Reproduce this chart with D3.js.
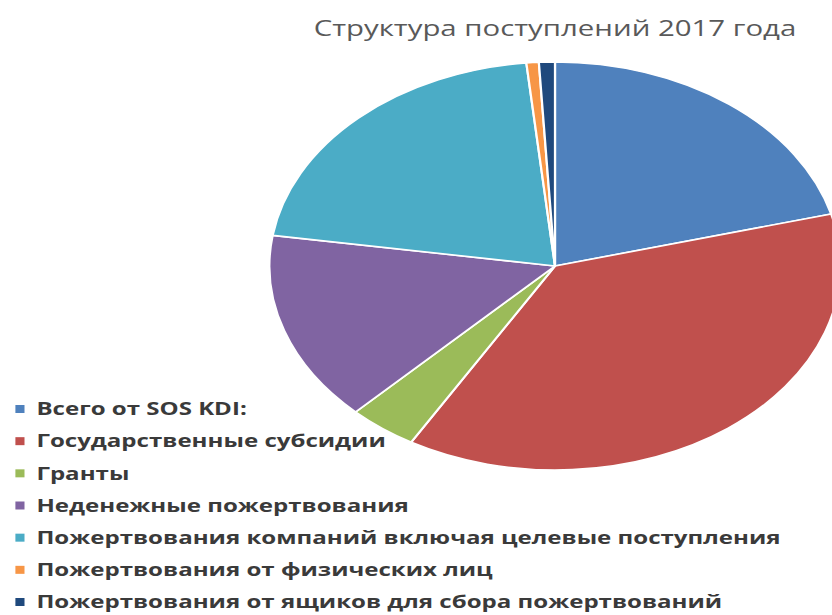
<!DOCTYPE html>
<html>
<head>
<meta charset="utf-8">
<script src="https://cdn.jsdelivr.net/npm/d3@7"></script>
<style>
  body { margin: 0; background: #fff; }
  svg { display: block; }
</style>
</head>
<body>
<script>
const categories = [
  'Всего от SOS KDI:',
  'Государственные субсидии',
  'Гранты',
  'Неденежные пожертвования',
  'Пожертвования компаний включая целевые поступления',
  'Пожертвования от физических лиц',
  'Пожертвования от ящиков для сбора пожертвований'
];
// shares, %
const values = [20.9, 37.5, 3.9, 15.1, 21.0, 0.7, 0.9];
const colors = ['#4F81BD', '#C0504D', '#9BBB59', '#8064A2', '#4BACC6', '#F79646', '#1F497D'];
const title = 'Структура поступлений 2017 года';

const width = 832;
const height = 615;
// the picture is stretched sideways, so draw everything in a squeezed frame
const sx = 1.4;

const svg = d3.select('body').append('svg').attr('width', width).attr('height', height);
const g = svg.append('g').attr('transform', `scale(${sx},1)`);

const cx = 555 / sx;
const cy = 266;
const r = 204;

const pie = d3.pie().sort(null).value((d) => d);
const arc = d3.arc().innerRadius(0).outerRadius(r);

g.append('g')
  .attr('transform', `translate(${cx},${cy})`)
  .selectAll('path')
  .data(pie(values))
  .join('path')
  .attr('d', arc)
  .attr('fill', (d, i) => colors[i])
  .attr('stroke', '#fff')
  .attr('stroke-width', 1.6)
  .attr('stroke-linejoin', 'round');

g.append('text')
  .attr('x', 555 / sx)
  .attr('y', 36)
  .attr('text-anchor', 'middle')
  .attr('font-family', 'Open Sans, sans-serif')
  .attr('font-size', 21)
  .attr('fill', '#595959')
  .text(title);

const legend = g.append('g').attr('class', 'legend');
const rowY = d3.scaleLinear().domain([0, categories.length - 1]).range([409, 602]);

const rows = legend.selectAll('g')
  .data(categories)
  .join('g')
  .attr('transform', (d, i) => `translate(0,${rowY(i)})`);

rows.append('rect')
  .attr('x', 11)
  .attr('y', -4)
  .attr('width', 6.5)
  .attr('height', 8)
  .attr('fill', (d, i) => colors[i]);

rows.append('text')
  .attr('x', 26)
  .attr('y', 0)
  .attr('dy', '0.36em')
  .attr('font-family', 'Open Sans, sans-serif')
  .attr('font-weight', 700)
  .attr('font-size', 17.2)
  .attr('fill', '#3a3a3a')
  .text((d) => d);
</script>
</body>
</html>
